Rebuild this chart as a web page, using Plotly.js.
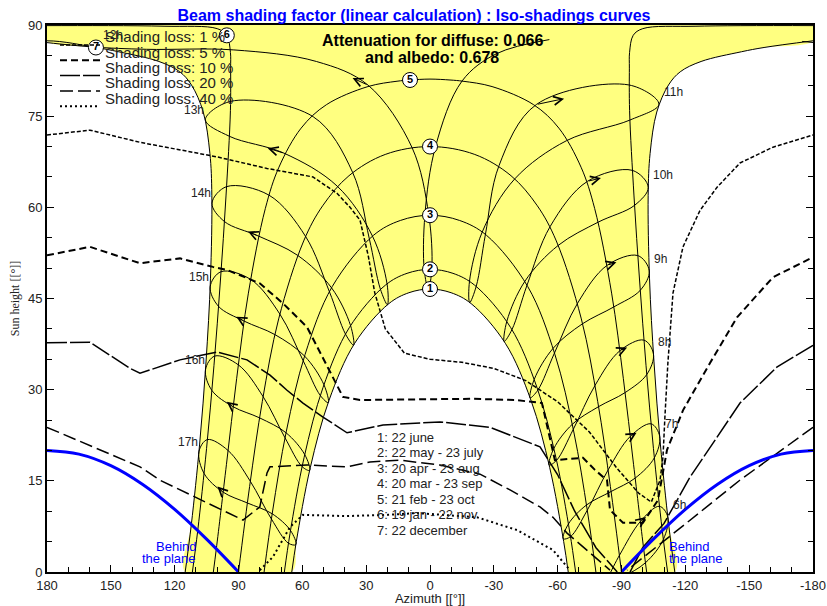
<!DOCTYPE html>
<html>
<head>
<meta charset="utf-8">
<script src="https://cdn.plot.ly/plotly-3.0.1.min.js"></script>
<style>
html,body{margin:0;padding:0;background:#fff;}
#chart{width:827px;height:606px;}
</style>
</head>
<body>
<div id="chart"></div>
<script>
// ---------- Sun paths (date curves): azimuth [°], sun height [°] ----------
const date1Az  = [-64.96,-62.83,-56.27,-47.44,-35.40,-19.33,-9.92,0,9.92,19.33,35.40,47.44,56.27,62.83,64.96];
const date1Alt = [0,4.99,17.16,28.26,37.63,44.16,45.95,46.56,45.95,44.16,37.63,28.26,17.16,4.99,0];
const date2Az  = [-68.44,-65.79,-59.17,-50.27,-37.92,-20.95,-10.79,0,10.79,20.95,37.92,50.27,59.17,65.79,68.44];
const date2Alt = [0,6.32,18.84,30.37,40.21,47.20,49.14,49.80,49.14,47.20,40.21,30.37,18.84,6.32,0];
const date3Az  = [-77.97,-74.04,-67.50,-58.72,-45.93,-26.54,-13.92,0,13.92,26.54,45.93,58.72,67.50,74.04,77.97];
const date3Alt = [0,9.87,23.19,35.78,46.97,55.40,57.84,58.70,57.84,55.40,46.97,35.78,23.19,9.87,0];
const date4Az  = [-90,-84.77,-78.83,-71.12,-59.36,-50.45,-38.08,-21.05,0,21.05,38.08,50.45,59.36,71.12,78.83,84.77,90];
const date4Alt = [0,14.08,28.03,41.64,54.47,60.25,65.20,68.70,70.00,68.70,65.20,60.25,54.47,41.64,28.03,14.08,0];
const date5Az  = [-101.82,-100.44,-95.66,-90.88,-85.35,-77.40,-71.00,-60.57,-48.72,-29.16,-15.50,-9.40,0,9.40,15.50,29.16,48.72,60.57,71.00,77.40,85.35,90.88,95.66,100.44,101.82];
const date5Alt = [0,3.77,17.72,31.80,45.88,59.79,66.60,73.03,76.88,79.87,80.75,80.95,81.10,80.95,80.75,79.87,76.88,73.03,66.60,59.79,45.88,31.80,17.72,3.77,0];
const date6Az  = [-111.67,-109.16,-105.02,-101.52,-98.51,-95.87,-93.80,-93.70,-93.80,-95.50,-100.00,-125.00,180,125.00,100.00,95.50,93.80,93.70,93.80,95.87,98.51,101.52,105.02,109.16,111.67];
const date6Alt = [0,6.81,20.29,34.01,47.88,61.87,75.90,82.90,85.50,88.30,89.40,89.80,89.90,89.80,89.40,88.30,85.50,82.90,75.90,61.87,47.88,34.01,20.29,6.81,0];
const date7Az  = [-115.05,-112.17,-108.27,-105.27,-103.18,-102.53,-103.44,-106.58,-112.10,-117.60,-127.40,-146.40,-157.00,180,157.00,146.40,127.40,117.60,112.10,106.58,103.44,102.53,103.18,105.27,108.27,112.17,115.05];
const date7Alt = [0,7.82,21.05,34.56,48.23,61.98,68.86,75.68,80.13,82.30,84.00,85.60,86.30,87.40,86.30,85.60,84.00,82.30,80.13,75.68,68.86,61.98,48.23,34.56,21.05,7.82,0];
const dateNumbers = ['1','2','3','4','5','6','7'];
const dateLegend = ['1: 22 june','2: 22 may - 23 july','3: 20 apr - 23 aug','4: 20 mar - 23 sep','5: 21 feb - 23 oct','6: 19 jan - 22 nov','7: 22 december'];

// ---------- Hour loops (legal time), points: 22dec,19jan,21feb,20mar,20apr,22may,22jun,23jul,23aug,23sep,23oct,22nov ----------
const loop6Az   = [-111.75,-109.66,-101.25,-90.31,-78.92,-79.22,-89.01,-98.82,-107.78];
const loop6Alt  = [9.06,5.35,1.52,-0.85,-2.66,-3.55,2.73,8.29,10.81];
const loop7Az   = [-107.94,-105.44,-96.42,-85.10,-73.54,-65.07,-62.61,-66.02,-73.91,-83.72,-94.13,-103.89];
const loop7Alt  = [22.32,18.79,15.45,13.24,11.02,7.91,5.47,5.81,10.16,16.80,22.31,24.38];
const loop8Az   = [-105.03,-101.87,-91.69,-79.22,-66.86,-58.23,-55.99,-59.47,-67.34,-77.56,-89.25,-100.55];
const loop8Alt  = [35.86,32.49,29.52,27.20,24.30,20.34,17.60,18.36,23.47,30.70,36.41,38.15];
const loop9Az   = [-103.04,-98.82,-86.37,-71.67,-57.84,-48.99,-47.05,-50.69,-58.50,-69.35,-83.29,-97.66];
const loop9Alt  = [49.54,46.35,43.61,40.84,36.80,31.70,28.65,29.93,36.03,44.22,50.47,52.06];
const loop10Az  = [-102.59,-96.14,-79.09,-60.27,-44.60,-36.13,-34.87,-38.50,-45.60,-56.43,-74.00,-95.14];
const loop10Alt = [63.29,60.33,57.57,53.74,47.84,41.28,37.94,39.87,47.19,56.82,64.28,66.08];
const loop11Az  = [-107.59,-93.96,-64.23,-39.83,-24.54,-18.56,-18.65,-21.72,-26.04,-32.45,-49.98,-93.46];
const loop11Alt = [76.97,74.36,70.98,64.68,55.94,47.83,44.34,47.00,55.53,66.88,76.92,80.14];
const loop12Az  = [-56.1,-31.4,-15.1,-2.6,2.4,2.7,0.76,-0.87,0.6,8.4,29.1,53.4,92.2,133.2,159.1,-174.9];
const loop12Alt = [87.6,85.3,80.8,70.0,58.7,49.7,46.56,50.0,58.8,69.8,80.1,84.0,85.9,86.0,86.4,87.3];
const loop13Az  = [105.57,93.64,54.94,36.33,28.54,23.34,20.01,20.18,27.04,43.71,68.60,94.22];
const loop13Alt = [74.39,77.44,74.92,65.72,54.86,46.57,43.98,47.40,55.27,63.52,68.91,71.68];
const loop14Az  = [102.47,95.60,75.71,58.45,47.26,39.71,35.93,37.34,46.26,62.29,80.80,96.60];
const loop14Alt = [60.67,63.41,62.01,55.20,46.10,39.14,37.32,40.55,46.75,52.12,55.30,57.66];
const loop15Az  = [103.32,98.20,84.33,70.57,59.60,51.55,47.83,49.85,58.94,72.89,87.41,99.36];
const loop15Alt = [46.92,49.41,48.15,42.44,34.76,29.04,27.87,30.81,35.53,39.06,41.29,43.70];
const loop16Az  = [105.51,101.17,90.07,78.44,68.14,60.11,56.55,58.87,67.66,80.10,92.51,102.49];
const loop16Alt = [33.26,35.53,34.08,28.86,22.08,17.34,16.72,19.32,22.91,25.36,27.19,29.87];
const loop17Az  = [108.60,104.60,94.90,84.44,74.54,66.51,63.05,65.56,74.17,85.82,97.19,106.15];
const loop17Alt = [19.78,21.79,19.99,14.92,8.72,4.73,4.51,6.83,9.58,11.36,13.13,16.20];
const hourLabels = ['6h','7h','8h','9h','10h','11h','12h','13h','14h','15h','16h','17h'];

// ---------- Iso-shading curves ----------
const iso1Az  = [180,159.8,136.3,117.5,100.1,76.6,55,43.7,37.6,32.9,29,26,21,12,0,-15,-30,-45,-60,-75,-88,-98,-104,-108.1,-109.5,-110.4,-111.8,-114.2,-118.9,-126.9,-134.9,-145.7,-161.2,-180];
const iso1Alt = [71.9,72.7,70.7,69.4,68.3,66.4,65.0,62.3,60.0,57.9,52,46,40,36,35,34.5,33.5,31.5,28,23,17,13,11.5,15.1,18.9,25.5,34.4,45.9,53.5,59.5,63.3,67.3,69.9,71.9];
const iso5Az  = [180,159.8,136.3,117.5,102,95.4,80,69.1,57.8,45.6,40.9,32.9,15,0,-20,-40,-52.6,-58.7,-71.9,-77.5,-83.2,-84.6,-90.7,-100.1,-107.1,-111.4,-118.9,-131.6,-144.3,-161.2,-180];
const iso5Alt = [52.1,53.5,50.8,51.6,50.2,49.7,47.5,44.2,40.3,32.1,28.8,28.3,28.4,28.5,28.5,28.3,27.8,18.4,18.8,16.8,15.1,10.2,8.1,8.1,11.8,20.1,26.6,34.4,41.9,48.5,51.8];
const iso10Az  = [180,159.8,141,136.3,117.5,100.1,86,75.2,67.2,59.7,50.3,39,22.1,-4.7,-28.2,-51.7,-60,-68,-78,-88,null,-180,-163,-145.7,-122.2,-110,-100.1,-94];
const iso10Alt = [37.7,37.8,33.5,32.7,34.9,36.2,34.9,32.4,29.9,27.8,25.5,22.9,24.2,24.7,23.8,20.6,16,10,4,0,null,37.3,33.7,27.8,15.6,8,4.1,0];
const iso20Az  = [180,136.3,126.9,87.9,80,76.6,75.2,57.8,39,28.2,14.1,-4.7,-23.5,-37.6,-51.7,-57.8,-64.4,-73.8,-84.6,null,-180,-145.6,-120,-92.6];
const iso20Alt = [23.8,17.3,15.1,8.55,10.7,16.3,17.3,17.6,17.3,18.1,18.4,17.6,16.1,13.5,10.7,9.0,6.4,3.6,0.3,null,23.8,15.1,7.9,0.3];
const iso40Az  = [80,73.8,65.8,59.7,40,20,6.1,-22.1,-40.9,-57.8,-65.8];
const iso40Alt = [0.3,2.5,7.4,9.4,9.2,9.4,9.7,9.0,6.9,3.6,0.3];
const isoLabels = ['Shading loss: 1 %','Shading loss: 5 %','Shading loss: 10 %','Shading loss: 20 %','Shading loss: 40 %'];

// ---------- Behind the plane limit ----------
const behindAz  = [180,165,150,135,120,105,90,null,-90,-105,-120,-135,-150,-165,-180];
const behindAlt = [20,19.4,17.5,14.4,10.3,5.4,0,null,0,5.4,10.3,14.4,17.5,19.4,20];

// ---------- Axes ----------
const xTickVals = [180,150,120,90,60,30,0,-30,-60,-90,-120,-150,-180];
const xTickText = ['180','150','120','90','60','30','0','-30','-60','-90','-120','-150','-180'];
const yRange = [0, 90];

// =====================================================================
const FONT = 'Liberation Sans, Arial, Helvetica, sans-serif';

function wrapPath(az, alt) {
  const x = [], y = [];
  for (let i = 0; i < az.length; i++) {
    const a = az[i], b = alt[i];
    if (i > 0 && a !== null && az[i-1] !== null) {
      const d = a - az[i-1];
      if (Math.abs(d) > 180) {
        const s = d > 0 ? -360 : 360;
        x.push(a + s); y.push(b);
        x.push(null); y.push(null);
        x.push(az[i-1] - s); y.push(alt[i-1]);
      }
    }
    x.push(a); y.push(b);
  }
  return {x, y};
}

const traces = [];

// yellow region swept by the sun (between 22 june and 22 december paths)
const n7 = date7Az.indexOf(180);
const polyX = [], polyY = [];
date1Az.forEach((v, i) => { polyX.push(v); polyY.push(date1Alt[i]); });
polyX.push((date1Az[date1Az.length-1] + date7Az[date7Az.length-1]) / 2); polyY.push(0);
for (let i = date7Az.length - 1; i >= n7; i--) { polyX.push(date7Az[i]); polyY.push(date7Alt[i]); }
polyX.push(180, -180, -180); polyY.push(yRange[1], yRange[1], date7Alt[n7]);
for (let i = n7 - 1; i >= 0; i--) { polyX.push(date7Az[i]); polyY.push(date7Alt[i]); }
polyX.push((date7Az[0] + date1Az[0]) / 2); polyY.push(0);
traces.push({x: polyX, y: polyY, mode: 'lines', fill: 'toself', fillcolor: '#ffff80',
  line: {color: 'rgba(0,0,0,0)', width: 0, shape: 'spline', smoothing: 1}, hoverinfo: 'skip'});

// date curves
const dates = [[date1Az,date1Alt],[date2Az,date2Alt],[date3Az,date3Alt],[date4Az,date4Alt],[date5Az,date5Alt],[date6Az,date6Alt],[date7Az,date7Alt]];
dates.forEach(([az, alt]) => {
  const p = wrapPath(az, alt);
  traces.push({x: p.x, y: p.y, mode: 'lines', line: {color: '#000', width: 1, shape: 'spline', smoothing: 1}, hoverinfo: 'skip'});
});

// hour loops
const loops = [
  {az: loop6Az,  alt: loop6Alt,  closed: true,  arrow: 7,  label: 0},
  {az: loop7Az,  alt: loop7Alt,  closed: true,  arrow: 10, label: 0},
  {az: loop8Az,  alt: loop8Alt,  closed: true,  arrow: 10, label: 0},
  {az: loop9Az,  alt: loop9Alt,  closed: true,  arrow: 10, label: 0},
  {az: loop10Az, alt: loop10Alt, closed: true,  arrow: 10, label: 0},
  {az: loop11Az, alt: loop11Alt, closed: true,  arrow: 10, label: 0},
  {az: loop12Az, alt: loop12Alt, closed: false, arrow: 10, label: 14},
  {az: loop13Az, alt: loop13Alt, closed: true,  arrow: 10, label: 0},
  {az: loop14Az, alt: loop14Alt, closed: true,  arrow: 10, label: 0},
  {az: loop15Az, alt: loop15Alt, closed: true,  arrow: 10, label: 0},
  {az: loop16Az, alt: loop16Alt, closed: true,  arrow: 10, label: 0},
  {az: loop17Az, alt: loop17Alt, closed: true,  arrow: 10, label: 0}
];
const annotations = [];
loops.forEach((L, k) => {
  const az = L.closed ? L.az.concat([L.az[0]]) : L.az;
  const alt = L.closed ? L.alt.concat([L.alt[0]]) : L.alt;
  const p = wrapPath(az, alt);
  traces.push({x: p.x, y: p.y, mode: 'lines', line: {color: '#000', width: 1, shape: 'spline', smoothing: 1}, hoverinfo: 'skip'});
  // direction arrow (oct -> nov)
  const i = L.arrow, j = i + 1;
  const tx = L.az[i], ty = L.alt[i];
  annotations.push({x: tx + 0.3 * (L.az[j] - tx), y: ty + 0.3 * (L.alt[j] - ty), ax: tx, ay: ty,
    xref: 'x', yref: 'y', axref: 'x', ayref: 'y', text: '', showarrow: true,
    arrowhead: 5, arrowsize: 1.7, arrowwidth: 1, arrowcolor: '#000', standoff: 0});
  // hour label
  const morning = k <= 6;
  annotations.push({x: L.az[L.label], y: L.alt[L.label], xref: 'x', yref: 'y', text: hourLabels[k], showarrow: false,
    xanchor: morning ? 'left' : 'right', yanchor: 'middle', xshift: k === 6 ? 10 : (morning ? 3 : 1), yshift: morning ? 12 : 10,
    font: {family: FONT, size: 12, color: '#222'}});
});

// iso-shading curves
const isoStyles = [
  {dash: '4px,2px', width: 1.5},
  {dash: '7px,4px', width: 2},
  {dash: '20px,3px', width: 1.5},
  {dash: '13px,5px', width: 1.5},
  {dash: '2px,3px', width: 2}
];
[[iso1Az,iso1Alt],[iso5Az,iso5Alt],[iso10Az,iso10Alt],[iso20Az,iso20Alt],[iso40Az,iso40Alt]].forEach(([az, alt], k) => {
  traces.push({x: az, y: alt, mode: 'lines', connectgaps: false,
    line: {color: '#000', width: isoStyles[k].width, dash: isoStyles[k].dash}, hoverinfo: 'skip'});
});

// behind the plane
traces.push({x: behindAz, y: behindAlt, mode: 'lines', connectgaps: false,
  line: {color: '#0000ff', width: 3, shape: 'spline', smoothing: 1}, hoverinfo: 'skip'});

// circled date numbers
const circIdx = [7, 7, 7, 8, 13, 15, 14];
traces.push({
  x: dates.map((d, k) => d[0][circIdx[k]]),
  y: dates.map((d, k) => d[1][circIdx[k]]),
  mode: 'markers+text',
  text: dateNumbers.map(t => '<b>' + t + '</b>'),
  textposition: 'middle center',
  textfont: {family: FONT, size: 11, color: '#000'},
  marker: {symbol: 'circle', size: 15, color: '#fff', line: {color: '#000', width: 1}},
  cliponaxis: false, hoverinfo: 'skip'
});

// ---------- text & legend ----------
const px2x = X => (X - 47) / 766;
const px2y = Y => (572 - Y) / 547;
const shapes = [];
isoLabels.forEach((t, k) => {
  const yc = 37 + k * 15.3;
  annotations.push({xref: 'paper', yref: 'paper', x: px2x(103), y: px2y(yc), xanchor: 'left', yanchor: 'middle',
    text: t, showarrow: false, font: {family: FONT, size: 15, color: '#222'}});
  shapes.push({type: 'line', xref: 'paper', yref: 'paper', x0: px2x(60), x1: px2x(100), y0: px2y(yc + 8), y1: px2y(yc + 8),
    line: {color: '#000', width: isoStyles[k].width, dash: isoStyles[k].dash}});
});
dateLegend.forEach((t, k) => {
  annotations.push({xref: 'paper', yref: 'paper', x: px2x(375), y: px2y(437 + k * 15.5), xanchor: 'left', yanchor: 'middle',
    text: t, showarrow: false, font: {family: FONT, size: 13, color: '#222'}});
});
annotations.push({xref: 'paper', yref: 'paper', x: px2x(432), y: px2y(40.5), xanchor: 'center', yanchor: 'middle',
  text: '<b>Attenuation for diffuse: 0.066</b>', showarrow: false, font: {family: FONT, size: 16, color: '#000'}});
annotations.push({xref: 'paper', yref: 'paper', x: px2x(432), y: px2y(57), xanchor: 'center', yanchor: 'middle',
  text: '<b>and albedo: 0.678</b>', showarrow: false, font: {family: FONT, size: 16, color: '#000'}});
[['Behind', 546.5], ['the plane', 558]].forEach(([t, Y]) => {
  annotations.push({xref: 'paper', yref: 'paper', x: px2x(198), y: px2y(Y), xanchor: 'right', yanchor: 'middle',
    text: t, showarrow: false, font: {family: FONT, size: 13, color: '#0000ff'}});
  annotations.push({xref: 'paper', yref: 'paper', x: px2x(667), y: px2y(Y), xanchor: 'left', yanchor: 'middle',
    text: t, showarrow: false, font: {family: FONT, size: 13, color: '#0000ff'}});
});

const layout = {
  width: 827, height: 606,
  margin: {l: 47, r: 14, t: 25, b: 34},
  paper_bgcolor: '#fff', plot_bgcolor: '#fff',
  showlegend: false,
  font: {family: FONT, size: 13, color: '#222'},
  title: {text: '<b>Beam shading factor (linear calculation) : Iso-shadings curves</b>',
    font: {family: FONT, size: 16, color: '#0000ff'},
    xref: 'container', yref: 'container', x: 414 / 827, y: 1 - 15 / 606, xanchor: 'center', yanchor: 'middle'},
  xaxis: {
    range: [180, -180], autorange: false,
    tickmode: 'array', tickvals: xTickVals, ticktext: xTickText,
    ticks: 'inside', ticklen: 7, tickwidth: 1, tickcolor: '#000',
    minor: {tickmode: 'linear', tick0: 0, dtick: 10, ticks: 'inside', ticklen: 5, tickcolor: '#000', showgrid: false},
    showline: true, linewidth: 2, linecolor: '#000', mirror: true,
    showgrid: false, zeroline: false,
    tickfont: {family: FONT, size: 13, color: '#222'},
    title: {text: 'Azimuth [[°]]', font: {family: FONT, size: 13, color: '#222'}, standoff: 2}
  },
  yaxis: {
    range: yRange, autorange: false,
    tickmode: 'linear', tick0: 0, dtick: 15,
    ticks: 'inside', ticklen: 7, tickwidth: 1, tickcolor: '#000',
    minor: {tickmode: 'linear', tick0: 0, dtick: 5, ticks: 'inside', ticklen: 5, tickcolor: '#000', showgrid: false},
    showline: true, linewidth: 2, linecolor: '#000', mirror: 'ticks',
    showgrid: false, zeroline: false,
    tickfont: {family: FONT, size: 13, color: '#222'},
    title: {text: 'Sun height [[°]]', font: {family: 'Liberation Serif, Times New Roman, serif', size: 12, color: '#222'}, standoff: 6}
  },
  annotations: annotations,
  shapes: shapes
};

Plotly.newPlot('chart', traces, layout, {staticPlot: true, displayModeBar: false});
</script>
</body>
</html>
